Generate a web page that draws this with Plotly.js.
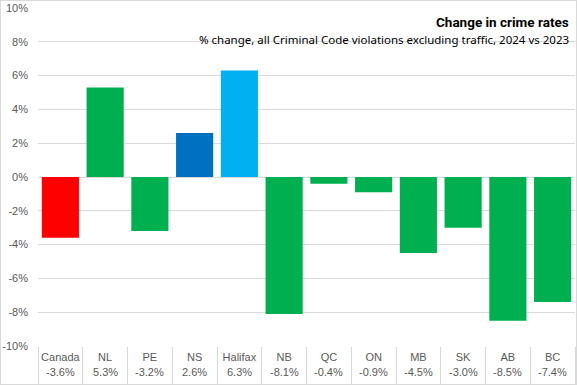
<!DOCTYPE html>
<html>
<head>
<meta charset="utf-8">
<script src="https://cdn.plot.ly/plotly-3.0.1.min.js"></script>
<style>
html,body{margin:0;padding:0;background:#fff;}
#chart{width:575px;height:383px;border:1px solid #d9d9d9;}
</style>
</head>
<body>
<div id="chart"></div>
<script>
const categories = ["Canada","NL","PE","NS","Halifax","NB","QC","ON","MB","SK","AB","BC"];
const values = [-3.6, 5.3, -3.2, 2.6, 6.3, -8.1, -0.4, -0.9, -4.5, -3.0, -8.5, -7.4];
const colors = ["#ff0000","#00b050","#00b050","#0070c0","#00b0f0","#00b050","#00b050","#00b050","#00b050","#00b050","#00b050","#00b050"];
const yTicks = [-10,-8,-6,-4,-2,0,2,4,6,8,10];
const yTickLabels = yTicks.map(v => v + "%");
const titleText = "Change in crime rates";
const subtitleText = "% change, all Criminal Code violations excluding traffic, 2024 vs 2023";

const fmt = v => v.toFixed(1) + "%";

const trace = {
  type: "bar",
  x: categories,
  y: values,
  marker: {color: colors},
  hoverinfo: "x+y"
};

const valueAnnotations = categories.map((c, i) => ({
  text: fmt(values[i]),
  xref: "x", yref: "paper",
  x: c, y: -0.078,
  xanchor: "center", yanchor: "middle",
  showarrow: false,
  font: {family: "Liberation Sans, Arial, sans-serif", size: 11, color: "#595959"}
}));

const layout = {
  width: 575,
  height: 383,
  margin: {l: 37, r: 1, t: 6.5, b: 37.5},
  paper_bgcolor: "#fff",
  plot_bgcolor: "#fff",
  bargap: 0.17,
  showlegend: false,
  font: {family: "Liberation Sans, Arial, sans-serif", size: 11, color: "#595959"},
  xaxis: {
    type: "category",
    tickmode: "array",
    tickvals: categories,
    ticktext: categories,
    tickangle: 0,
    ticks: "outside",
    tickson: "boundaries",
    ticklen: 37,
    tickcolor: "#d9d9d9",
    tickwidth: 1,
    ticklabelstandoff: 3,
    showgrid: false,
    showline: false,
    zeroline: false,
    tickfont: {size: 11, color: "#595959"},
    fixedrange: true
  },
  yaxis: {
    range: [-10, 10],
    tickmode: "array",
    tickvals: yTicks,
    ticktext: yTickLabels,
    showgrid: true,
    gridcolor: "#d9d9d9",
    gridwidth: 1,
    zeroline: true,
    zerolinecolor: "#d9d9d9",
    zerolinewidth: 1,
    showline: false,
    ticks: "",
    ticklabelstandoff: 9,
    tickfont: {size: 11, color: "#595959"},
    fixedrange: true
  },
  annotations: [
    {
      text: "<b>" + titleText + "</b>",
      xref: "paper", yref: "paper",
      x: 0.993, y: 0.958,
      xanchor: "right", yanchor: "middle",
      showarrow: false,
      font: {family: "Roboto, sans-serif", size: 13.5, color: "#000"}
    },
    {
      text: subtitleText,
      xref: "paper", yref: "paper",
      x: 0.993, y: 0.907,
      xanchor: "right", yanchor: "middle",
      showarrow: false,
      font: {family: "Noto Sans, sans-serif", size: 11.5, color: "#000"}
    }
  ].concat(valueAnnotations)
};

Plotly.newPlot("chart", [trace], layout, {displayModeBar: false, staticPlot: true});
</script>
</body>
</html>
